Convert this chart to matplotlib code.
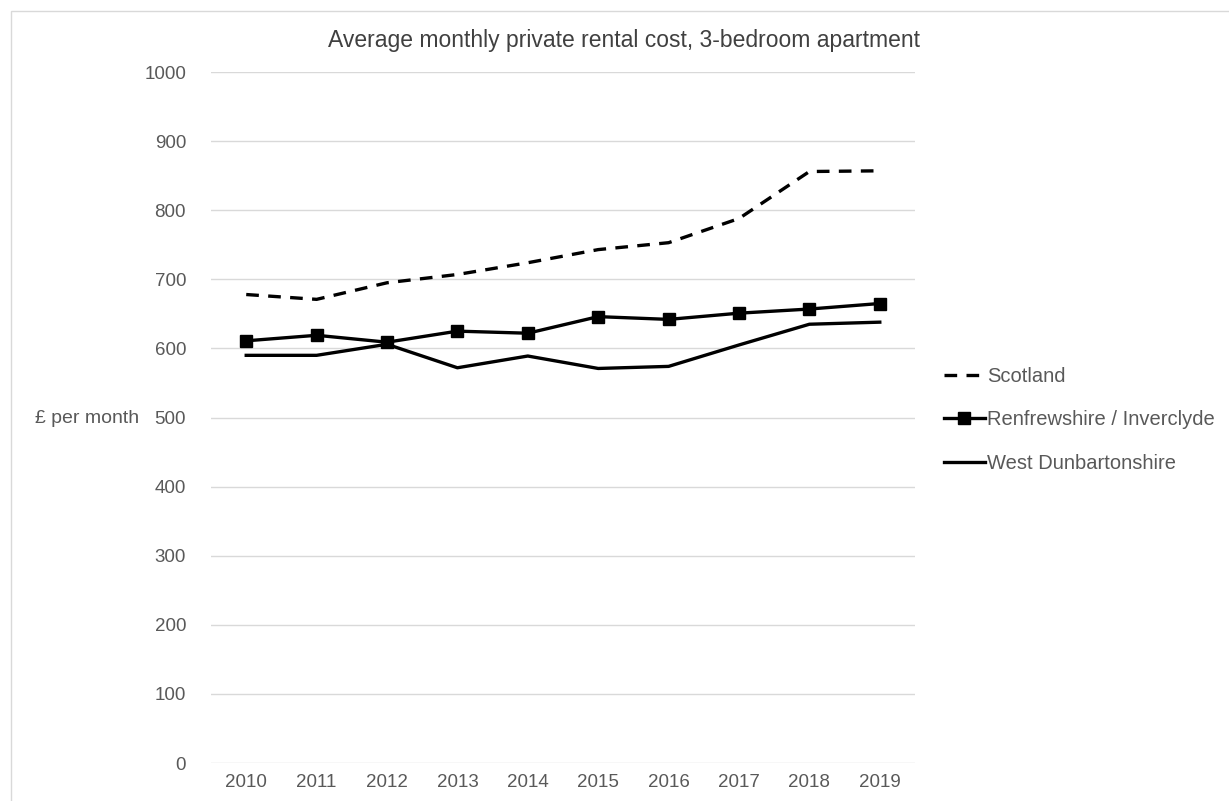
import numpy as np
import matplotlib
matplotlib.use("Agg")
import matplotlib.pyplot as plt
from matplotlib.patches import Rectangle

years = ["2010", "2011", "2012", "2013", "2014", "2015", "2016", "2017", "2018", "2019"]
scotland = [678, 671, 695, 707, 724, 743, 753, 788, 856, 857]
renfrew = [611, 619, 609, 625, 622, 646, 642, 651, 657, 665]
west_dun = [590, 590, 606, 572, 589, 571, 574, 605, 635, 638]

plt.rcParams["font.family"] = ["Liberation Sans", "DejaVu Sans"]
grey = "#595959"

fig = plt.figure(figsize=(12.29, 8.01), dpi=100)
ax = fig.add_axes([0.1717, 0.0474, 0.5728, 0.8627])

x = np.arange(len(years))
ax.plot(x, scotland, color="black", lw=2.4, ls=(0, (3.8, 2.8)), label="Scotland")
ax.plot(x, renfrew, color="black", lw=2.4, marker="s", ms=9, label="Renfrewshire / Inverclyde")
ax.plot(x, west_dun, color="black", lw=2.4, label="West Dunbartonshire")

ax.set_xlim(-0.5, len(years) - 0.5)
ax.set_ylim(0, 1000)
ax.set_yticks(range(0, 1001, 100))
ax.set_xticks(x)
ax.set_xticklabels(years)
ax.grid(axis="y", color="#d9d9d9", lw=1)
ax.set_axisbelow(True)
for s in ax.spines.values():
    s.set_visible(False)
ax.tick_params(length=0, labelsize=13.5, colors=grey, pad=8)
ax.tick_params(axis="y", pad=18)

fig.text(624 / 1229, 1 - 40 / 801,
         "Average monthly private rental cost, 3-bedroom apartment",
         fontsize=16.5, color="#404040", ha="center", va="center")
fig.text(35 / 1229, 1 - 418 / 801, "£ per month", fontsize=14, color=grey,
         ha="left", va="center")

leg = ax.legend(loc="center left", bbox_to_anchor=(1.015, 0.4965), frameon=False,
                fontsize=14.5, handlelength=2.05, handletextpad=0.1, labelspacing=1.2,
                labelcolor=grey)

fig.patches.append(Rectangle((11 / 1229, -0.1), 1.2, 1 - 11 / 801 + 0.1,
                             transform=fig.transFigure, fill=False,
                             edgecolor="#d9d9d9", lw=1))

fig.savefig("out.png", dpi=100)
